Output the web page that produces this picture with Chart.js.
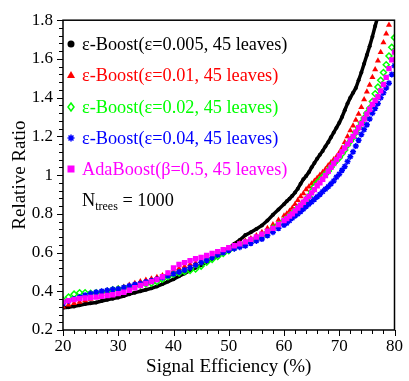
<!DOCTYPE html>
<html>
<head>
<meta charset="utf-8">
<script src="https://cdn.jsdelivr.net/npm/chart.js@4"></script>
<style>
  html, body { margin: 0; padding: 0; background: #fff; }
  #wrap { width: 409px; height: 381px; }
</style>
</head>
<body>
<div id="wrap"><canvas id="ratioChart" width="409" height="381"></canvas></div>
<script>
// Signal efficiency (%) where each curve was sampled
const efficiency = [
    20, 21, 22, 23, 24, 25, 26, 27, 28, 29, 30,
    31, 32, 33, 34, 35, 36, 37, 38, 39, 40,
    41, 42, 43, 44, 45, 46, 47, 48, 49, 50,
    51, 52, 53, 54, 55, 56, 57, 58, 59, 60,
    60.5, 61, 61.5, 62, 62.5, 63, 63.5, 64, 64.5, 65,
    65.5, 66, 66.5, 67, 67.5, 68, 68.5, 69, 69.5, 70,
    70.5, 71, 71.5, 72, 72.5, 73, 73.5, 74, 74.5, 75,
    75.5, 76, 76.5, 77, 77.5, 78, 78.5, 79, 79.5, 80
];

// Relative ratio for each classifier
const ratioEps005 = [
    0.315, 0.318, 0.322, 0.328, 0.334, 0.338, 0.342, 0.350, 0.356, 0.362, 0.368,
    0.375, 0.385, 0.393, 0.400, 0.408, 0.415, 0.425, 0.437, 0.450, 0.462,
    0.478, 0.492, 0.508, 0.522, 0.535, 0.552, 0.568, 0.585, 0.602, 0.622,
    0.645, 0.665, 0.690, 0.705, 0.722, 0.740, 0.765, 0.795, 0.822, 0.850,
    0.865, 0.878, 0.893, 0.910, 0.930, 0.955, 0.978, 0.995, 1.015, 1.040,
    1.062, 1.085, 1.105, 1.125, 1.148, 1.170, 1.195, 1.220, 1.245, 1.270,
    1.300, 1.335, 1.370, 1.400, 1.425, 1.450, 1.490, 1.530, 1.575, 1.620,
    1.665, 1.715, 1.770, 1.820, null, null, null, null, null, null
];
const ratioEps01 = [
    0.320, 0.330, 0.338, 0.345, 0.352, 0.360, 0.370, 0.385, 0.398, 0.408, 0.415,
    0.422, 0.432, 0.442, 0.450, 0.458, 0.465, 0.472, 0.482, 0.492, 0.505,
    0.518, 0.528, 0.538, 0.546, 0.555, 0.568, 0.580, 0.592, 0.605, 0.620,
    0.635, 0.648, 0.660, 0.672, 0.688, 0.705, 0.725, 0.745, 0.768, 0.790,
    0.800, 0.815, 0.830, 0.850, 0.870, 0.890, 0.905, 0.925, 0.940, 0.955,
    0.970, 0.985, 1.000, 1.015, 1.030, 1.050, 1.065, 1.080, 1.095, 1.115,
    1.140, 1.170, 1.200, 1.230, 1.255, 1.285, 1.315, 1.350, 1.390, 1.430,
    1.465, 1.505, 1.545, 1.590, 1.635, 1.685, 1.730, 1.775, null, null
];
const ratioEps02 = [
    0.355, 0.370, 0.385, 0.392, 0.392, 0.390, 0.392, 0.395, 0.400, 0.408, 0.412,
    0.415, 0.420, 0.428, 0.432, 0.438, 0.442, 0.450, 0.462, 0.475, 0.488,
    0.495, 0.502, 0.508, 0.515, 0.530, 0.550, 0.565, 0.580, 0.595, 0.610,
    0.625, 0.638, 0.650, 0.660, 0.672, 0.685, 0.705, 0.725, 0.745, 0.765,
    0.775, 0.790, 0.800, 0.815, 0.830, 0.840, 0.855, 0.870, 0.890, 0.915,
    0.940, 0.960, 0.975, 0.990, 1.005, 1.020, 1.040, 1.060, 1.075, 1.090,
    1.110, 1.130, 1.155, 1.175, 1.195, 1.220, 1.245, 1.270, 1.295, 1.320,
    1.345, 1.380, 1.420, 1.455, 1.490, 1.530, 1.570, 1.615, 1.660, 1.710
];
const ratioEps04 = [
    0.337, 0.350, 0.360, 0.370, 0.380, 0.388, 0.395, 0.400, 0.405, 0.410, 0.412,
    0.420, 0.428, 0.435, 0.440, 0.448, 0.455, 0.462, 0.470, 0.480, 0.490,
    0.500, 0.510, 0.522, 0.535, 0.548, 0.560, 0.575, 0.588, 0.600, 0.612,
    0.620, 0.628, 0.635, 0.648, 0.660, 0.670, 0.688, 0.705, 0.725, 0.742,
    0.752, 0.765, 0.778, 0.790, 0.800, 0.812, 0.825, 0.838, 0.850, 0.862,
    0.875, 0.888, 0.900, 0.915, 0.928, 0.940, 0.955, 0.970, 0.990, 1.005,
    1.025, 1.045, 1.070, 1.095, 1.120, 1.150, 1.180, 1.210, 1.235, 1.260,
    1.290, 1.320, 1.345, 1.370, 1.400, 1.425, 1.450, 1.475, 1.520, 1.565
];
const ratioAda = [
    0.345, 0.352, 0.357, 0.362, 0.365, 0.368, 0.370, 0.374, 0.378, 0.382, 0.388,
    0.395, 0.405, 0.418, 0.430, 0.440, 0.450, 0.460, 0.475, 0.495, 0.520,
    0.538, 0.548, 0.558, 0.568, 0.575, 0.585, 0.595, 0.605, 0.615, 0.625,
    0.635, 0.645, 0.655, 0.668, 0.680, 0.695, 0.710, 0.725, 0.745, 0.765,
    0.775, 0.788, 0.800, 0.815, 0.830, 0.845, 0.860, 0.875, 0.890, 0.908,
    0.925, 0.945, 0.960, 0.978, 0.998, 1.020, 1.040, 1.060, 1.080, 1.100,
    1.120, 1.140, 1.160, 1.180, 1.200, 1.222, 1.245, 1.265, 1.290, 1.315,
    1.340, 1.365, 1.385, 1.405, 1.435, 1.468, 1.505, 1.550, 1.595, 1.635
];

const seriesNames = [
    'ε-Boost(ε=0.005, 45 leaves)',
    'ε-Boost(ε=0.01, 45 leaves)',
    'ε-Boost(ε=0.02, 45 leaves)',
    'ε-Boost(ε=0.04, 45 leaves)',
    'AdaBoost(β=0.5, 45 leaves)'
];
const xTickValues = [20, 30, 40, 50, 60, 70, 80];
const yTickValues = [0.2, 0.4, 0.6, 0.8, 1, 1.2, 1.4, 1.6, 1.8];

const SERIF = "'Liberation Serif', 'Times New Roman', serif";

function toPoints(values) {
    return efficiency.map((x, i) => ({ x: x, y: values[i] }));
}

// ROOT-style frame with outward tick marks plus the in-plot legend
const framePlugin = {
    id: 'frame',
    afterDatasetsDraw(chart) {
        const ctx = chart.ctx;
        const a = chart.chartArea;
        const xs = chart.scales.x;
        const ys = chart.scales.y;
        ctx.save();
        ctx.strokeStyle = '#000';
        ctx.lineWidth = 1;
        ctx.beginPath();
        // x ticks: major every 10, minor every 2
        for (let v = 20; v <= 80; v += 2) {
            const px = Math.round(xs.getPixelForValue(v)) + 0.5;
            const len = (v % 10 === 0) ? 6 : 4;
            ctx.moveTo(px, a.bottom);
            ctx.lineTo(px, a.bottom + len);
        }
        // y ticks: major every 0.2, minor every 0.04
        for (let k = 0; k <= 40; k++) {
            const v = 0.2 + k * 0.04;
            const py = Math.round(ys.getPixelForValue(v)) + 0.5;
            const len = (k % 5 === 0) ? 6 : 4;
            ctx.moveTo(a.left, py);
            ctx.lineTo(a.left - len, py);
        }
        ctx.stroke();

        ctx.lineWidth = 1.5;
        ctx.strokeRect(a.left, a.top, a.right - a.left, a.bottom - a.top);

        // legend
        const rowY = [44, 75, 107, 138, 169];
        ctx.font = '18.3px ' + SERIF;
        ctx.textBaseline = 'middle';
        ctx.textAlign = 'left';
        chart.data.datasets.forEach((ds, i) => {
            const y = rowY[i];
            ctx.fillStyle = ds.borderColor;
            ctx.fillText(seriesNames[i], 82, y + 1);
            drawMarker(ctx, ds.pointStyle, 71, y, ds.borderColor, ds.pointBackgroundColor || ds.backgroundColor);
        });
        ctx.fillStyle = '#000';
        ctx.fillText('N', 82, 201);
        const nW = ctx.measureText('N').width;
        ctx.font = '12px ' + SERIF;
        ctx.fillText('trees', 82 + nW, 207);
        const tW = ctx.measureText('trees').width;
        ctx.font = '18.3px ' + SERIF;
        ctx.fillText(' = 1000', 82 + nW + tW, 201);
        ctx.restore();
    }
};

function drawMarker(ctx, style, x, y, stroke, fill) {
    ctx.save();
    ctx.strokeStyle = stroke;
    ctx.fillStyle = fill;
    ctx.lineWidth = 1.5;
    ctx.beginPath();
    if (style === 'circle') {
        ctx.arc(x, y, 3.5, 0, Math.PI * 2);
        ctx.fill();
    } else if (style === 'triangle') {
        ctx.moveTo(x, y - 4);
        ctx.lineTo(x + 4, y + 3);
        ctx.lineTo(x - 4, y + 3);
        ctx.closePath();
        ctx.fill();
    } else if (style === 'rectRot') {
        ctx.moveTo(x, y - 4);
        ctx.lineTo(x + 3, y);
        ctx.lineTo(x, y + 4);
        ctx.lineTo(x - 3, y);
        ctx.closePath();
        ctx.stroke();
    } else if (style === 'star') {
        for (let k = 0; k < 4; k++) {
            const ang = k * Math.PI / 4;
            ctx.moveTo(x - 3.5 * Math.cos(ang), y - 3.5 * Math.sin(ang));
            ctx.lineTo(x + 3.5 * Math.cos(ang), y + 3.5 * Math.sin(ang));
        }
        ctx.stroke();
    } else {
        ctx.fillRect(x - 3.5, y - 3.5, 7, 7);
    }
    ctx.restore();
}

const ctx = document.getElementById('ratioChart').getContext('2d');
new Chart(ctx, {
    type: 'scatter',
    data: {
        datasets: [
            {
                label: seriesNames[0], data: toPoints(ratioEps005), order: 5, clip: 0,
                showLine: true, borderColor: '#000000', backgroundColor: '#000000', borderWidth: 3.5,
                pointStyle: 'circle', pointRadius: 2, pointBorderWidth: 0
            },
            {
                label: seriesNames[1], data: toPoints(ratioEps01), order: 4, clip: 0,
                borderColor: '#ff0000', backgroundColor: '#ff0000',
                pointStyle: 'triangle', pointRadius: 3.5, pointBorderWidth: 0
            },
            {
                label: seriesNames[2], data: toPoints(ratioEps02), order: 3, clip: 0,
                borderColor: '#00ff00', backgroundColor: '#00ff00', pointBackgroundColor: 'rgba(0,0,0,0)',
                pointStyle: 'rectRot', pointRadius: 3, pointBorderWidth: 1.5
            },
            {
                label: seriesNames[3], data: toPoints(ratioEps04), order: 2, clip: 0,
                borderColor: '#0000ff', backgroundColor: '#0000ff',
                pointStyle: 'star', pointRadius: 3, pointBorderWidth: 1.5
            },
            {
                label: seriesNames[4], data: toPoints(ratioAda), order: 1, clip: 0,
                borderColor: '#ff00ff', backgroundColor: '#ff00ff',
                pointStyle: 'rect', pointRadius: 3.8, pointBorderWidth: 0
            }
        ]
    },
    options: {
        responsive: false,
        animation: false,
        devicePixelRatio: 1,
        layout: { padding: { top: 18, right: 12, left: 0, bottom: 0 } },
        plugins: { legend: { display: false }, tooltip: { enabled: false } },
        scales: {
            x: {
                type: 'linear', min: 20, max: 80,
                afterBuildTicks: s => { s.ticks = xTickValues.map(v => ({ value: v })); },
                afterFit: s => { s.height = 51; },
                grid: { display: false, drawTicks: false },
                border: { display: false },
                ticks: { color: '#000', padding: 6, maxRotation: 0, font: { family: SERIF, size: 17 } },
                title: {
                    display: true, text: 'Signal Efficiency (%)', color: '#000',
                    font: { family: SERIF, size: 19 }, padding: { top: 0, bottom: 3 }
                }
            },
            y: {
                type: 'linear', min: 0.2, max: 1.8,
                afterBuildTicks: s => { s.ticks = yTickValues.map(v => ({ value: v })); },
                afterFit: s => { s.width = 63; },
                grid: { display: false, drawTicks: false },
                border: { display: false },
                ticks: {
                    color: '#000', padding: 10, font: { family: SERIF, size: 17 },
                    callback: v => String(Math.round(v * 10) / 10)
                },
                title: {
                    display: true, text: 'Relative Ratio', color: '#000',
                    font: { family: SERIF, size: 19 }, padding: { top: 9, bottom: 0 }
                }
            }
        }
    },
    plugins: [framePlugin]
});
</script>
</body>
</html>
